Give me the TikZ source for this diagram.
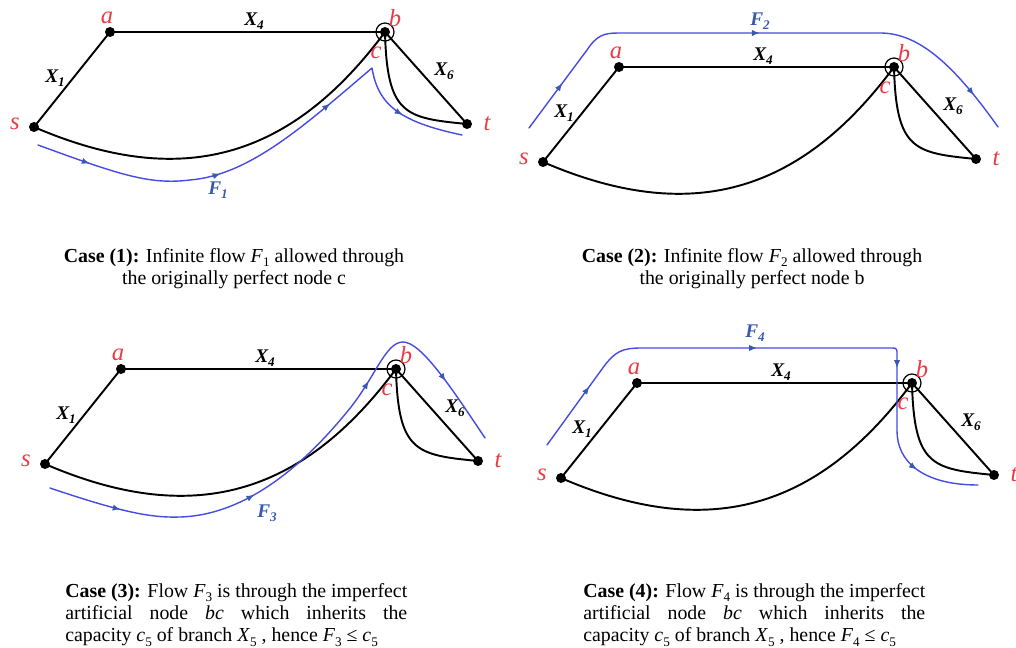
\documentclass[tikz,border=0pt]{standalone}
\usepackage{fontspec}
\setmainfont{Liberation Serif}
\usetikzlibrary{decorations.markings,arrows.meta}
\definecolor{lblred}{RGB}{235,60,70}
\definecolor{flowblue}{RGB}{70,75,225}
\definecolor{markblue}{RGB}{55,90,175}
\newcommand{\lowsub}[1]{\raisebox{-0.5ex}{\fontsize{7.5}{8}\selectfont #1}}
\newcommand{\jline}[1]{\makebox[6.84cm][s]{#1}}
\newcommand{\flowtip}{\arrow[markblue]{Latex[length=4.5pt,width=3.6pt]}}
\tikzset{
  px/.style={x=0.02cm,y=-0.02cm},
  edge/.style={line width=1.1pt, black},
  vdot/.style={circle, fill=black, inner sep=0pt, minimum size=0.2cm},
  ring/.style={circle, draw=black, line width=0.7pt, minimum size=0.36cm, inner sep=0pt},
  vlabel/.style={text=lblred, font=\fontsize{14}{14}\selectfont\itshape, inner sep=0pt},
  xlabel/.style={font=\fontsize{11}{11}\selectfont\bfseries\itshape, inner sep=0pt},
  flabel/.style={text=markblue, font=\fontsize{11}{11}\selectfont\bfseries\itshape, inner sep=0pt},
  flowline/.style={flowblue, line width=0.8pt, line cap=round, line join=round, postaction={decorate}},
  flowiii/.style n args={3}{flowline, decoration={markings,
      mark=at position #1 with {\flowtip},
      mark=at position #2 with {\flowtip},
      mark=at position #3 with {\flowtip}}},
  flowiv/.style n args={4}{flowline, decoration={markings,
      mark=at position #1 with {\flowtip},
      mark=at position #2 with {\flowtip},
      mark=at position #3 with {\flowtip},
      mark=at position #4 with {\flowtip}}},
  capstyle/.style={font=\fontsize{11.3}{12.6}\selectfont, inner sep=0pt},
}
\newcommand{\graphpanel}{%
  \node[vdot] (s) at (34,127) {};
  \node[vdot] (a) at (110,32) {};
  \node[vdot] (b) at (385,32) {};
  \node[vdot] (t) at (467,124) {};
  \node[ring] (bc) at (b) {};
  \draw[edge] (s.center) -- (a.center);
  \draw[edge] (a.center) -- (b.center);
  \draw[edge] (b.center) -- (t.center);
  \draw[edge] (s.center) .. controls +(146,63) and +(-95,128) .. (b.center);
  \draw[edge] (b.center) .. controls +(2,83) and +(-62,-6) .. (t.center);
  \node[vlabel] (la) at (107,18) {a};
  \node[vlabel] (lb) at (395,18) {b};
  \node[vlabel] (lc) at (376,53) {c};
  \node[vlabel] (ls) at (15,124) {s};
  \node[vlabel] (lt) at (487,124) {t};
  \node[xlabel] (x4) at (254,21) {X\lowsub{4}};
  \node[xlabel] (x1) at (55,78) {X\lowsub{1}};
  \node[xlabel] (x6) at (444,71) {X\lowsub{6}};
}
\begin{document}
\begin{tikzpicture}[px]
\useasboundingbox (0,0) rectangle (1016,648);

% Case 1
\begin{scope}[name prefix=p1-]
  \graphpanel
  \draw[flowiv={0.111}{0.381}{0.645}{0.873}]
    (38,145) .. controls (120,175) and (150,185) .. (190,180)
    .. controls (250,175) and (305,125) .. (372,68)
    .. controls (378,105) and (400,122) .. (462,135);
  \node[flabel] (f) at (218,190) {F\lowsub{1}};
\end{scope}

% Case 2
\begin{scope}[shift={(509,35)}, name prefix=p2-]
  \graphpanel
  \draw[flowiii={0.101}{0.50}{0.928}]
    (20,93) -- (78,15) .. controls (88,0) and (95,-2) .. (110,-2)
    -- (371,-2) .. controls (410,-2) and (445,30) .. (489,92);
  \node[flabel] (f) at (251,-14) {F\lowsub{2}};
\end{scope}

% Case 3
\begin{scope}[shift={(11,337)}, name prefix=p3-]
  \graphpanel
  \draw[flowiv={0.1325}{0.381}{0.673}{0.876}]
    (39,151) .. controls (110,175) and (140,181) .. (169,180)
    .. controls (240,178) and (300,120) .. (340,70)
    .. controls (365,38) and (375,5) .. (392,5)
    .. controls (410,5) and (440,50) .. (474,101);
  \node[flabel] (f) at (256,176) {F\lowsub{3}};
\end{scope}

% Case 4
\begin{scope}[shift={(527,351)}, name prefix=p4-]
  \graphpanel
  \draw[flowiv={0.123}{0.437}{0.707}{0.891}]
    (20,94) -- (75,18) .. controls (88,0) and (95,-3) .. (115,-3)
    -- (366,-3) .. controls (370,-3) and (370,-1) .. (370,3)
    -- (370,80) .. controls (370,110) and (395,134) .. (451,134);
  \node[flabel] (f) at (228,-18) {F\lowsub{4}};
\end{scope}

% captions
\node[capstyle, align=center, anchor=north] (cap1) at (234,246.5)
  {\strut\textbf{Case (1):} Infinite flow \textit{F}\lowsub{1} allowed through\\the originally perfect node c};
\node[capstyle, align=center, anchor=north] (cap2) at (752,246.5)
  {\strut\textbf{Case (2):} Infinite flow \textit{F}\lowsub{2} allowed through\\the originally perfect node b};
\node[capstyle, align=left, anchor=north west] (cap3) at (65,581.5)
  {\jline{\strut\textbf{Case (3):} Flow \textit{F}\lowsub{3} is through the imperfect}\\
   \jline{artificial node \textit{bc} which inherits the}\\
   capacity \textit{c}\lowsub{5} of branch \textit{X}\lowsub{5} , hence \textit{F}\lowsub{3} ≤ \textit{c}\lowsub{5}};
\node[capstyle, align=left, anchor=north west] (cap4) at (583,581.5)
  {\jline{\strut\textbf{Case (4):} Flow \textit{F}\lowsub{4} is through the imperfect}\\
   \jline{artificial node \textit{bc} which inherits the}\\
   capacity \textit{c}\lowsub{5} of branch \textit{X}\lowsub{5} , hence \textit{F}\lowsub{4} ≤ \textit{c}\lowsub{5}};
\end{tikzpicture}
\end{document}
